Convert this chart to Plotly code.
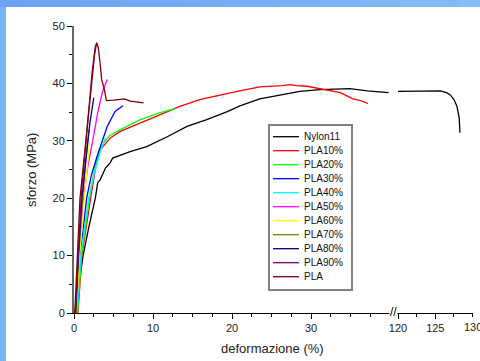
import plotly.graph_objects as go

names = ["Nylon11", "PLA10%", "PLA20%", "PLA30%", "PLA40%", "PLA50%",
         "PLA60%", "PLA70%", "PLA80%", "PLA90%", "PLA"]
colors = ["#000000", "#ff0000", "#00ff00", "#0000ff", "#00ffff", "#ff00ff",
          "#ffff00", "#808000", "#000080", "#800080", "#800000"]

nylon_x = [0.1, 0.63, 1.15, 1.9, 2.7, 3.0, 3.3, 4.0, 4.6, 4.9, 6.0, 7.1, 9.2, 11.8, 14.3,
           16.8, 19.4, 21.0, 23.5, 26.1, 28.6, 31.1, 33.0, 34.9, 37.1, 39.8]
nylon_y = [0, 5.2, 10, 15.1, 20, 22.7, 23.2, 25.3, 26.2, 27.0, 27.6, 28.1, 29.0, 30.7, 32.5,
           33.7, 35.1, 36.1, 37.3, 38.0, 38.6, 38.9, 39.0, 39.1, 38.7, 38.4]
nylon_x2 = [120, 121.5, 123, 125, 125.7, 126.5, 127, 127.5, 127.9, 128.2, 128.3]
nylon_y2 = [38.6, 38.6, 38.7, 38.7, 38.7, 38.4, 38.0, 37.2, 36.0, 34.0, 31.4]

pla10_x = [0.5, 1.0, 2.1, 2.7, 3.3, 4.6, 5.8, 8.4, 10.9, 13.4, 16, 18.5, 21, 23.5, 26.4,
           27.3, 28.2, 29.5, 31.1, 33.7, 35.3, 36.3, 37.2]
pla10_y = [0, 10, 20, 25, 28.4, 30.5, 31.6, 33.1, 34.5, 36, 37.2, 38, 38.7, 39.4, 39.6,
           39.8, 39.6, 39.5, 39.1, 38.4, 37.3, 37.0, 36.5]
pla20_x = [0.45, 0.95, 1.95, 2.6, 3.2, 4.5, 5.8, 8.4, 10.9, 12.8]
pla20_y = [0, 10, 20, 25, 28.6, 30.9, 31.9, 33.7, 34.9, 35.6]
pla30_x = [0.35, 0.8, 1.6, 2.2, 2.9, 4.2, 5.2, 6.2]
pla30_y = [0, 10, 20, 24, 27.2, 32.5, 35.1, 36.1]
pla40_x = [0.35, 0.85, 1.85, 2.6, 3.3, 4.0]
pla40_y = [0, 10, 20, 24.5, 28, 30.6]
pla50_x = [0.3, 0.65, 1.2, 1.8, 2.4, 3.0, 3.6, 4.2]
pla50_y = [0, 10, 20, 26, 30.2, 34.9, 38.5, 40.7]
pla60_x = [0.3, 0.7, 1.3, 1.7, 2.0]
pla60_y = [0, 10, 20, 26, 30]
pla70_x = [0.25, 0.6, 1.1, 1.5, 1.9]
pla70_y = [0, 10, 20, 27, 32]
pla80_x = [0.2, 0.55, 1.0, 1.5, 2.0, 2.5]
pla80_y = [0, 10, 20, 27, 33, 37.5]
pla90_x = [0.15, 0.5, 0.9, 1.4, 1.9, 2.3, 2.7, 2.9]
pla90_y = [0, 10, 20, 28, 36, 42, 46.5, 47]
pla_x = [0.1, 0.42, 0.76, 1.5, 2.2, 2.6, 2.87, 3.08, 3.3, 3.5, 3.84, 4.1, 5.0, 5.8, 6.4,
         7.1, 8.0, 8.8]
pla_y = [0, 10, 20, 30, 40, 45, 47.1, 46.2, 43.6, 40.7, 38.9, 37.0, 37.1, 37.2, 37.3,
         36.9, 36.7, 36.6]

series_x = [nylon_x, pla10_x, pla20_x, pla30_x, pla40_x, pla50_x, pla60_x, pla70_x,
            pla80_x, pla90_x, pla_x]
series_y = [nylon_y, pla10_y, pla20_y, pla30_y, pla40_y, pla50_y, pla60_y, pla70_y,
            pla80_y, pla90_y, pla_y]

x_left_ticks = [0, 10, 20, 30]
x_right_ticks = [120, 125, 130]
y_ticks = [0, 10, 20, 30, 40, 50]

FONT = "Liberation Sans, Arial, sans-serif"

fig = go.Figure()
for i in range(len(names)):
    fig.add_trace(go.Scatter(x=series_x[i], y=series_y[i], mode="lines", name=names[i],
                             legendgroup=names[i], showlegend=False,
                             line=dict(color=colors[i], width=1.3)))
fig.add_trace(go.Scatter(x=nylon_x2, y=nylon_y2, mode="lines", name=names[0],
                         legendgroup=names[0], showlegend=False, xaxis="x2",
                         line=dict(color=colors[0], width=1.3)))

L, R, T, B = 74, 7, 26, 48
W, H = 480, 361
pw = W - L - R
ph = H - T - B
split = 324 / pw

def px(x):
    return (x - L) / pw

def py(y):
    return (H - B - y) / ph

shapes = []
annotations = []
# decorative blue frame strips
n = 24
c0 = (0x6c, 0xa2, 0xf8)
c1 = (0x84, 0xbd, 0xf9)
for k in range(n):
    t = k / (n - 1)
    c = tuple(int(c0[j] + (c1[j] - c0[j]) * t) for j in range(3))
    shapes.append(dict(type="rect", xref="paper", yref="paper",
                       x0=px(W * k / n), x1=px(W * (k + 1) / n) + 0.002,
                       y0=py(7), y1=py(0), fillcolor="rgb(%d,%d,%d)" % c,
                       line=dict(width=0), layer="above"))
shapes.append(dict(type="rect", xref="paper", yref="paper", x0=px(0), x1=px(6),
                   y0=py(H), y1=py(7), fillcolor="#78b3fb", line=dict(width=0),
                   layer="above"))

# legend box (drawn manually to match compact spacing)
lg_left, lg_right, lg_top, lg_bottom = 269, 352, 125, 290
shapes.append(dict(type="rect", xref="paper", yref="paper",
                   x0=px(lg_left), x1=px(lg_right), y0=py(lg_bottom), y1=py(lg_top),
                   fillcolor="white", line=dict(color="#808080", width=2), layer="above"))
row0, step = 136.7, 14.0
for i, nm in enumerate(names):
    yy = row0 + i * step
    shapes.append(dict(type="line", xref="paper", yref="paper",
                       x0=px(273), x1=px(299), y0=py(yy), y1=py(yy),
                       line=dict(color=colors[i], width=1.3), layer="above"))
    annotations.append(dict(text=nm, xref="paper", yref="paper", x=px(302), y=py(yy),
                            xanchor="left", yanchor="middle", showarrow=False,
                            font=dict(size=10, color="#111", family=FONT)))

annotations += [
    dict(text="deformazione (%)", xref="paper", yref="paper", x=px(272), y=py(348),
         xanchor="center", yanchor="middle",
         showarrow=False, font=dict(size=13, color="#222", family=FONT)),
    dict(text="sforzo (MPa)", xref="paper", yref="paper", x=px(31), y=py(170),
         xanchor="center", yanchor="middle",
         textangle=-90, showarrow=False, font=dict(size=13, color="#222", family=FONT)),
    dict(text="//", xref="paper", yref="paper", x=px(393), y=py(312),
         xanchor="center", yanchor="middle",
         showarrow=False, bgcolor="white", borderpad=0,
         font=dict(size=12, color="black", family=FONT)),
    # last tick label of the right segment, partly cut by the page edge as in the reference
    dict(text=str(x_right_ticks[-1]), xref="x2", yref="paper", x=x_right_ticks[-1], y=py(327),
         xanchor="center", yanchor="middle", showarrow=False,
         font=dict(size=11, color="#222", family=FONT)),
]

fig.update_layout(
    width=W, height=H,
    margin=dict(l=L, r=R, t=T, b=B, autoexpand=False),
    paper_bgcolor="white", plot_bgcolor="white",
    font=dict(family=FONT, size=11, color="#222"),
    shapes=shapes,
    showlegend=False,
    xaxis=dict(domain=[0, split], range=[0, 41], tickvals=x_left_ticks,
               showgrid=False, zeroline=False, showline=True, linecolor="black",
               linewidth=1, ticks="outside", ticklen=5, tickcolor="black",
               minor=dict(dtick=2.5, ticks="outside", ticklen=3, tickcolor="black",
                          showgrid=False),
               tickfont=dict(size=11, color="#222")),
    xaxis2=dict(domain=[split, 1], range=[120, 130.05], tickvals=x_right_ticks[:-1],
                anchor="y",
                showgrid=False, zeroline=False, showline=True, linecolor="black",
                linewidth=1, ticks="outside", ticklen=5, tickcolor="black",
                minor=dict(dtick=2.5, ticks="outside", ticklen=3, tickcolor="black",
                           showgrid=False),
                tickfont=dict(size=11, color="#222")),
    yaxis=dict(range=[0, 50], tickvals=y_ticks, showgrid=False, zeroline=False,
               showline=True, linecolor="#666", linewidth=2, ticks="outside",
               ticklen=5, tickcolor="black",
               minor=dict(dtick=5, ticks="outside", ticklen=3, tickcolor="black",
                          showgrid=False),
               tickfont=dict(size=11, color="#222")),
    annotations=annotations,
)

fig.write_html("out.html", config={"displayModeBar": False},
               post_script="document.body.style.margin='0';document.body.style.overflow='hidden';")
